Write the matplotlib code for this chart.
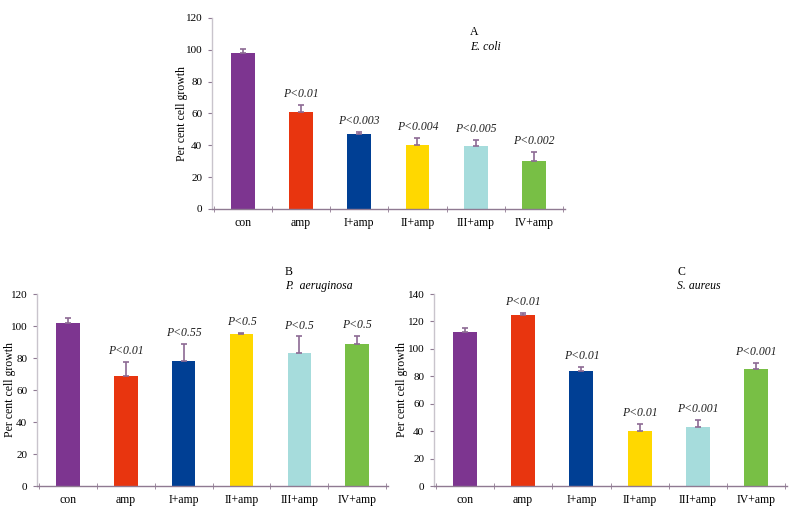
import matplotlib.pyplot as plt
import numpy as np

plt.rcParams['font.family'] = ['Liberation Serif', 'DejaVu Serif']

categories = ['con', 'amp', 'I+amp', 'II+amp', 'III+amp', 'IV+amp']
colors = ['#7d3590', '#e8350f', '#003f94', '#ffd800', '#a6dcdc', '#78bf45']

# panel A: E. coli
a_vals = [98, 61, 47, 40, 39.5, 30]
a_err = [2.5, 4.5, 1.2, 4.5, 4, 6]
a_p = ['', 'P<0.01', 'P<0.003', 'P<0.004', 'P<0.005', 'P<0.002']

# panel B: P. aeruginosa
b_vals = [102, 69, 78, 95, 83, 89]
b_err = [3, 8.5, 11, 0.6, 10.5, 5]
b_p = ['', 'P<0.01', 'P<0.55', 'P<0.5', 'P<0.5', 'P<0.5']

# panel C: S. aureus
c_vals = [112, 125, 84, 40, 43, 85]
c_err = [3, 1.5, 3, 5.5, 5, 5]
c_p = ['', 'P<0.01', 'P<0.01', 'P<0.01', 'P<0.001', 'P<0.001']

axis_col = '#8f7a92'
err_col = '#8c6a94'

fig = plt.figure(figsize=(7.91, 5.13), dpi=100)


def panel(rect, vals, err, plabels, ymax, ystep, letter, species, text_xy, label_x):
    ax = fig.add_axes(rect)
    x = np.arange(len(categories))
    ax.bar(x, vals, width=0.41, color=colors, zorder=2)
    ax.errorbar(x, vals, yerr=[np.zeros(len(err)), err], fmt='none',
                ecolor=err_col, elinewidth=1.2, capsize=2, capthick=1.2, zorder=3)
    for xi, v, e, p in zip(x, vals, err, plabels):
        if p:
            ax.text(xi, v + e + ymax * 0.025, p, ha='center', va='bottom',
                    fontsize=8.5, style='italic', color='#222222')
    ax.set_xlim(-0.53, 5.53)
    ax.set_ylim(0, ymax)
    ax.set_yticks(np.arange(0, ymax + 1, ystep))
    ax.set_xticks(x)
    ax.set_xticklabels(categories, fontsize=8.5)
    ax.set_xticks(np.arange(-0.5, 6.0, 1), minor=True)
    ax.tick_params(axis='x', which='major', length=0, pad=6)
    ax.tick_params(axis='x', which='minor', length=4, direction='inout',
                   color=axis_col)
    ax.tick_params(axis='y', length=3, color=axis_col, labelsize=8, pad=4)
    for s in ['top', 'right']:
        ax.spines[s].set_visible(False)
    for s in ['left', 'bottom']:
        ax.spines[s].set_color(axis_col)
        ax.spines[s].set_linewidth(1.0)
    ax.spines['left'].set_color('#c9c4cc')
    ax.set_ylabel('Per cent cell growth', fontsize=8.5)
    ax.yaxis.set_label_coords(label_x, 0.5)
    fig.text(text_xy[0], text_xy[1], letter, fontsize=8.5, ha='left', va='center')
    fig.text(text_xy[0], text_xy[1] - 0.028, species, fontsize=8.5,
             style='italic', ha='left', va='center')
    return ax


panel([0.268, 0.5926, 0.446, 0.3724], a_vals, a_err, a_p, 120, 20,
      'A', 'E. coli', (0.594, 0.937), -0.068)
panel([0.0468, 0.0526, 0.4437, 0.3743], b_vals, b_err, b_p, 120, 20,
      'B', 'P.  aeruginosa', (0.360, 0.470), -0.060)
panel([0.5487, 0.0526, 0.4463, 0.3743], c_vals, c_err, c_p, 140, 20,
      'C', 'S. aureus', (0.856, 0.470), -0.074)

fig.savefig('out.png', dpi=100)
